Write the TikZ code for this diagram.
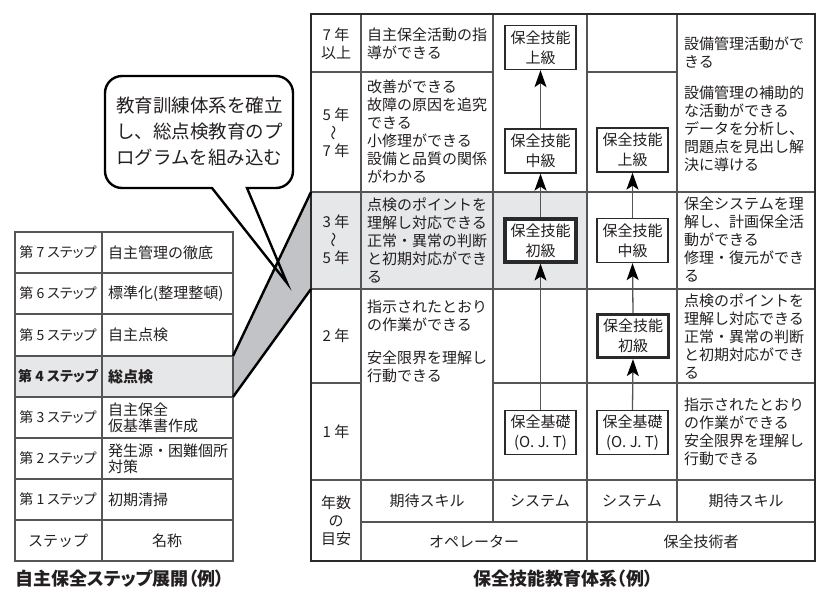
\documentclass[tikz,border=0pt]{standalone}
\usepackage{fontspec}
\setmainfont{Noto Sans CJK JP}
\usetikzlibrary{arrows.meta}
\definecolor{ink}{HTML}{231F20}
\definecolor{lightg}{HTML}{E6E7E8}
\definecolor{midg}{HTML}{C2C3C6}
\definecolor{rulec}{HTML}{555555}
\definecolor{framec}{HTML}{2A2A2A}
\newcommand\fA{\fontsize{15}{18}\selectfont}
\newcommand\fL{\fontsize{14}{16}\selectfont\addfontfeatures{RawFeature=+palt}}
\newcommand\fLL{\fontsize{15}{16}\selectfont}
\newcommand\fBub{\fontsize{18.5}{26}\selectfont}
\newcommand\fCap{\fontsize{18}{20}\selectfont\bfseries\addfontfeatures{RawFeature=+palt}}
\begin{document}
\begin{tikzpicture}[x=1pt,y=-1pt,
  inrule/.style={line width=1.2pt, draw=rulec},
  outrule/.style={line width=2.6pt, draw=framec},
  edge/.style={line width=2.4pt, draw=black},
  txt/.style={anchor=west, align=left, inner sep=0pt, font=\fA, text=ink},
  ctr/.style={align=center, inner sep=0pt, font=\fA, text=ink},
  ltx/.style={anchor=west, align=left, inner sep=0pt, font=\fLL, text=ink},
  lctr/.style={align=center, inner sep=0pt, font=\fL, text=ink},
  sysbox/.style={draw=framec, line width=1.3pt, fill=white, minimum width=71pt, minimum height=44pt, inner sep=0pt, align=center, font=\fontsize{15}{20}\selectfont, text=ink},
  sysbold/.style={sysbox, line width=3.2pt, minimum width=71pt, minimum height=43pt},
  arr/.style={line width=1.3pt, draw=rulec, -{Stealth[length=17pt,width=12pt,inset=4pt,black]}},
  tld/.style={inner sep=0pt, font=\fA, text=ink, rotate=90}
]
\useasboundingbox (0,0) rectangle (839,595);

% ---------- right table fills ----------
\fill[lightg] (311,192) rectangle (587,289);
% ---------- left table fills ----------
\fill[lightg] (15,356) rectangle (233,397);

% ---------- connector (gray band) ----------
\fill[midg] (233,356) -- (311,192) -- (311,289) -- (233,397) -- cycle;

% ---------- left table ----------
\draw[inrule] (15,232) rectangle (233,561);
\draw[inrule] (102,232) -- (102,561);
\foreach \yy in {273,314,356,397,438,479,520}
  \draw[inrule] (15,\yy) -- (233,\yy);

% ---------- right table rules ----------
\draw[inrule] (361,14) -- (361,561);
\draw[inrule] (493,14) -- (493,522);
\draw[inrule] (587,14) -- (587,561);
\draw[inrule] (677,14) -- (677,522);
\draw[inrule] (311,72) -- (493,72);
\draw[inrule] (587,72) -- (677,72);
\draw[inrule] (311,192) -- (815,192);
\draw[inrule] (311,289) -- (815,289);
\draw[inrule] (311,383) -- (361,383);
\draw[inrule] (493,383) -- (815,383);
\draw[inrule] (311,480) -- (815,480);
\draw[inrule] (361,522) -- (815,522);
\draw[outrule] (311,14) rectangle (815,561);

% ---------- connector edges ----------
\draw[edge] (233,356) -- (311,192);
\draw[edge] (233,397) -- (311,289);

% ---------- speech bubble ----------
\draw[edge, line join=miter]
  (287,283) -- (212,188) -- (122,188)
  .. controls (112.6,188) and (105,180.4) .. (105,171)
  -- (105,93)
  .. controls (105,83.6) and (112.6,76) .. (122,76)
  -- (276,76)
  .. controls (285.4,76) and (293,83.6) .. (293,93)
  -- (293,171)
  .. controls (293,180.4) and (285.4,188) .. (276,188)
  -- (247,188) -- cycle;
\node[anchor=west, align=left, inner sep=0pt, font=\fBub, text=ink] (bub) at (116,131)
  {教育訓練体系を確立\\し、総点検教育のプ\\ログラムを組み込む};

% ---------- left table text ----------
\node[lctr] (s7) at (58,252.5) {第 7 ステップ};
\node[lctr] (s6) at (58,293.5) {第 6 ステップ};
\node[lctr] (s5) at (58,335) {第 5 ステップ};
\node[lctr, font=\fL\bfseries] (s4) at (58,376.5) {第 4 ステップ};
\node[lctr] (s3) at (58,417.5) {第 3 ステップ};
\node[lctr] (s2) at (58,458.5) {第 2 ステップ};
\node[lctr] (s1) at (58,499.5) {第 1 ステップ};
\node[lctr, font=\fLL] (sh) at (58,540.5) {ステップ};
\node[ltx] (n7) at (108,252.5) {自主管理の徹底};
\node[ltx] (n6) at (108,293.5) {標準化(整理整頓)};
\node[ltx] (n5) at (108,335) {自主点検};
\node[ltx, font=\fLL\bfseries] (n4) at (108,376.5) {総点検};
\node[ltx] (n3) at (108,418) {自主保全\\仮基準書作成};
\node[ltx] (n2) at (108,459) {発生源・困難個所\\対策};
\node[ltx] (n1) at (108,499.5) {初期清掃};
\node[lctr, font=\fLL] (nh) at (167,540.5) {名称};

% ---------- year column ----------
\node[ctr] (y7) at (336,44) {7 年\\以上};
\node[ctr] (y57a) at (336,115) {5 年};
\node[tld] (y57t) at (336,133) {～};
\node[ctr] (y57b) at (336,151) {7 年};
\node[ctr] (y35a) at (336,222) {3 年};
\node[tld] (y35t) at (336,240) {～};
\node[ctr] (y35b) at (336,258) {5 年};
\node[ctr] (y2) at (336,336) {2 年};
\node[ctr] (y1) at (336,432) {1 年};
\node[ctr] (ynum) at (336,521) {年数\\の\\目安};

% ---------- operator expected skills ----------
\node[txt] (os7) at (367,44) {自主保全活動の指\\導ができる};
\node[txt] (os57) at (367,131) {改善ができる\\故障の原因を追究\\できる\\小修理ができる\\設備と品質の関係\\がわかる};
\node[txt] (os35) at (367,240.5) {点検のポイントを\\理解し対応できる\\正常・異常の判断\\と初期対応ができ\\る};
\node[txt] (os12) at (367,341.5) {指示されたとおり\\の作業ができる\\[15pt]安全限界を理解し\\行動できる};

% ---------- technician expected skills ----------
\node[txt] (ts7) at (684,52.5) {設備管理活動がで\\きる};
\node[txt] (ts57) at (684,129) {設備管理の補助的\\な活動ができる\\データを分析し、\\問題点を見出し解\\決に導ける};
\node[txt] (ts35) at (684,240) {保全システムを理\\解し、計画保全活\\動ができる\\修理・復元ができ\\る};
\node[txt] (ts2) at (684,336) {点検のポイントを\\理解し対応できる\\正常・異常の判断\\と初期対応ができ\\る};
\node[txt] (ts1) at (684,432) {指示されたとおり\\の作業ができる\\安全限界を理解し\\行動できる};

% ---------- header rows ----------
\node[ctr] (h1) at (427,501) {期待スキル};
\node[ctr] (h2) at (540,501) {システム};
\node[ctr] (h3) at (632,501) {システム};
\node[ctr] (h4) at (746,501) {期待スキル};
\node[ctr] (h5) at (474,542) {オペレーター};
\node[ctr] (h6) at (701,542) {保全技術者};

% ---------- system boxes ----------
\node[sysbox] (opA) at (540.5,47.5) {保全技能\\上級};
\node[sysbox] (opB) at (540.5,151) {保全技能\\中級};
\node[sysbold] (opC) at (540.5,240.5) {保全技能\\初級};
\node[sysbox] (opD) at (540.5,432.5) {保全基礎\\(O. J. T)};
\node[sysbox] (tA) at (632.5,150) {保全技能\\上級};
\node[sysbox] (tB) at (632.5,240.5) {保全技能\\中級};
\node[sysbold] (tC) at (633,336) {保全技能\\初級};
\node[sysbox] (tD) at (632.5,432.5) {保全基礎\\(O. J. T)};

\draw[arr] (opD.north) -- (opC.south);
\draw[arr] (opC.north) -- (opB.south);
\draw[arr] (opB.north) -- (opA.south);
\draw[arr] (tD.north) -- (tC.south);
\draw[arr] (tC.north) -- (tB.south);
\draw[arr] (tB.north) -- (tA.south);

% ---------- captions ----------
\node[anchor=west, inner sep=0pt, font=\fCap, text=ink] (capL) at (15,579) {自主保全ステップ展開（例）};
\node[inner sep=0pt, font=\fCap, text=ink] (capR) at (563,579) {保全技能教育体系（例）};
\end{tikzpicture}
\end{document}
